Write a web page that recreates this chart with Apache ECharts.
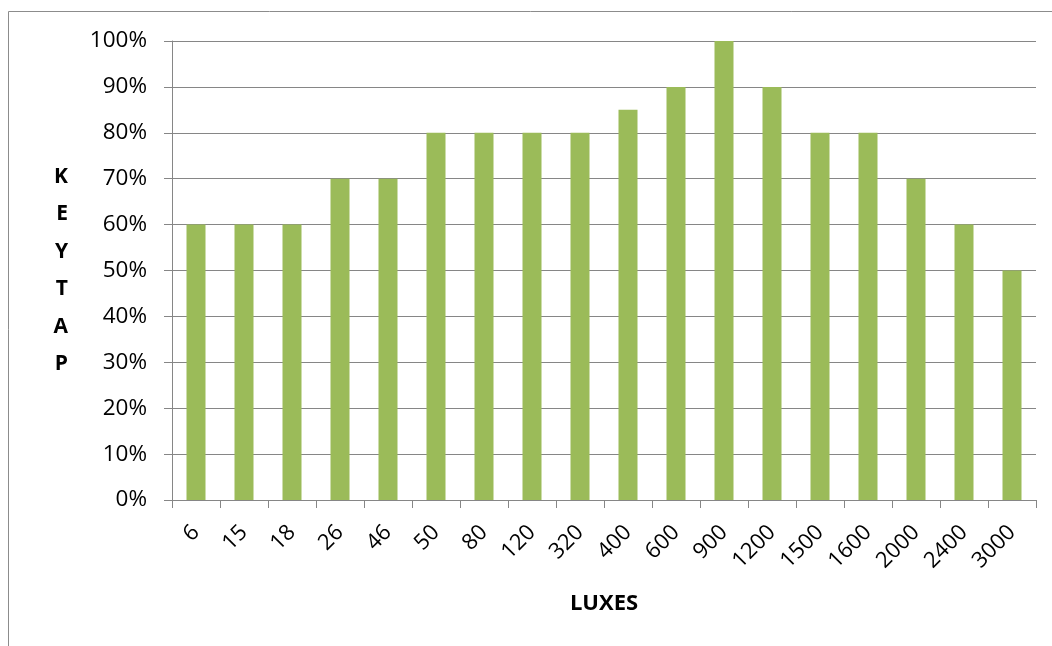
<!DOCTYPE html>
<html>
<head>
<meta charset="utf-8">
<script src="https://cdn.jsdelivr.net/npm/echarts@6/dist/echarts.min.js"></script>
<style>html,body{margin:0;padding:0;background:#fff;}#c{width:1052px;height:646px;}</style>
</head>
<body>
<div id="c"></div>
<script>
var categories = ['6','15','18','26','46','50','80','120','320','400','600','900','1200','1500','1600','2000','2400','3000'];
var values = [60,60,60,70,70,80,80,80,80,85,90,100,90,80,80,70,60,50];
var yTicks = [0,10,20,30,40,50,60,70,80,90,100];
var xTitle = 'LUXES';
var yTitle = 'KEYTAP';

var chart = echarts.init(document.getElementById('c'), null, {renderer:'canvas'});
var font = 'Open Sans';
chart.setOption({
  animation:false,
  graphic:[{type:'rect', shape:{x:8.5,y:11.5,width:1100,height:700}, style:{fill:'none',stroke:'#8c8c8c',lineWidth:1}, silent:true}],
  grid:{left:172,right:16,top:41,bottom:146},
  xAxis:{
    type:'category', data:categories,
    name:xTitle, nameLocation:'middle', nameGap:93,
    nameTextStyle:{fontFamily:font,fontWeight:'bold',fontSize:22,color:'#000'},
    axisLine:{lineStyle:{color:'#868686',width:1}},
    axisTick:{show:true,length:8,lineStyle:{color:'#868686'}},
    axisLabel:{rotate:45,fontFamily:font,fontSize:22,color:'#000',margin:29,interval:0}
  },
  yAxis:{
    type:'value', min:0, max:100, interval:10,
    name:yTitle.split('').join('\n'), nameLocation:'middle', nameRotate:0, nameGap:104,
    nameTextStyle:{fontFamily:font,fontWeight:'bold',fontSize:21,color:'#000',lineHeight:37.5,padding:[14,0,0,0]},
    axisLine:{show:true,lineStyle:{color:'#868686',width:1}},
    axisTick:{show:true,length:8,lineStyle:{color:'#868686'}},
    splitLine:{lineStyle:{color:'#868686',width:1}},
    axisLabel:{fontFamily:font,fontSize:22.5,color:'#000',margin:25,formatter:function(v){return v+'%';}}
  },
  series:[{type:'bar', data:values, barWidth:19, itemStyle:{color:'#9BBB59'}}]
});
</script>
</body>
</html>
